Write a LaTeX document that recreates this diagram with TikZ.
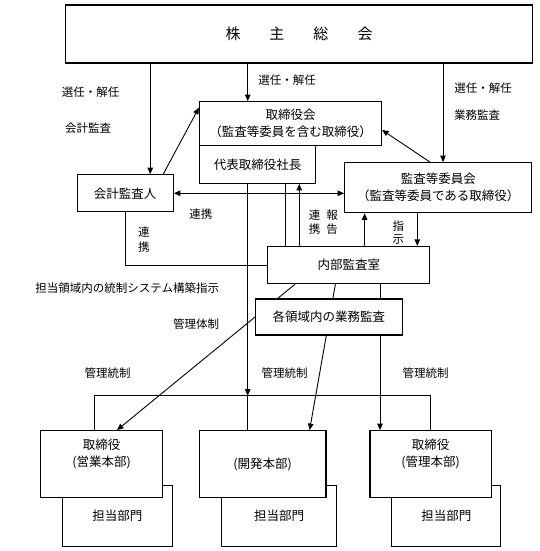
\documentclass[tikz,border=0pt]{standalone}
\usepackage{fontspec}
\setmainfont{Noto Sans CJK JP}
\usetikzlibrary{arrows.meta}

\tikzset{
  box/.style={draw, line width=1.2pt, fill=white, align=center, inner sep=0pt,
    font=\fontsize{12.5}{17}\selectfont},
  shadowbox/.style={box, line width=0.9pt},
  boxtxt/.style={align=center, inner sep=0pt, font=\fontsize{12.5}{17}\selectfont},
  lbl/.style={align=center, inner sep=0pt, font=\fontsize{11.5}{14}\selectfont},
  conn/.style={line width=0.9pt},
  arr/.style={conn, -{Triangle[length=6.5pt,width=5.5pt]}},
  dbl/.style={conn, {Triangle[length=6.5pt,width=5.5pt]}-{Triangle[length=6.5pt,width=5.5pt]}},
}

\begin{document}
\begin{tikzpicture}[x=1pt,y=-1pt]
\useasboundingbox (0,0) rectangle (540,551);

\node[box, minimum width=467, minimum height=58, font=\fontsize{15}{18}\selectfont]
  (soukai) at (299,34) {株\hspace{29pt}主\hspace{29pt}総\hspace{29pt}会};
\node[box, minimum width=182, minimum height=44] (torikai) at (290.5,123.7)
  {取締役会\\（監査等委員を含む取締役）};
\node[box, minimum width=116, minimum height=37.6] (shachou) at (257.6,164.5) {代表取締役社長};
\node[box, minimum width=96, minimum height=37] (kaikei) at (125.2,193.3) {会計監査人};
\node[box, minimum width=187, minimum height=50] (iinkai) at (438.3,187.7)
  {監査等委員会\\（監査等委員である取締役）};
\node[box, minimum width=162, minimum height=37] (naibu) at (348.8,265) {内部監査室};

% shadow boxes first, main boxes on top
\node[shadowbox, minimum width=110, minimum height=61] (eigyoubu) at (117.4,515.5) {担当部門};
\node[shadowbox, minimum width=114.5, minimum height=61] (kaihatsubu) at (279,515.5) {担当部門};
\node[shadowbox, minimum width=109, minimum height=61] (kanribu) at (446.4,515.5) {担当部門};
\node[box, minimum width=122, minimum height=67] (eigyou) at (101.6,464.2) {};
\node[box, minimum width=126.5, minimum height=67] (kaihatsu) at (262.7,464.2) {(開発本部)};
\node[box, minimum width=121.5, minimum height=67] (kanri) at (430.7,464.2) {};
\node[boxtxt] (eigyoutxt) at ([yshift=10pt]eigyou.center) {取締役\\(営業本部)};
\node[boxtxt] (kanritxt) at ([yshift=10pt]kanri.center) {取締役\\(管理本部)};

% from the general meeting
\coordinate (k1) at ([xshift=25pt]kaikei.north);
\coordinate (t1) at ([xshift=-42.8pt]torikai.north);
\coordinate (i1) at ([xshift=4.7pt]iinkai.north);
\draw[arr] (soukai.south -| k1) -- (k1);
\draw[arr] (soukai.south -| t1) -- (t1);
\draw[arr] (soukai.south -| i1) -- (i1);

\draw[arr] ([xshift=38pt]kaikei.north) -- ([yshift=-6.6pt]torikai.north west);
\draw[arr] ([xshift=-8.3pt]iinkai.north) -- ([yshift=-6.3pt]torikai.east);
\draw[dbl] (kaikei.east) -- (kaikei.east -| iinkai.west);
\draw[conn] (kaikei.south) |- (naibu.west);

% president to the divisions
\coordinate (bus) at (0,395.7);
\coordinate (s1) at ([xshift=-9.9pt]shachou.south);
\coordinate (s2) at ([xshift=27.9pt]shachou.south);
\coordinate (s3) at ([xshift=41.7pt]shachou.south);
\draw[arr] (s1) -- (s1 |- bus);
\draw[conn] (s1 |- bus) -- (s1 |- kaihatsu.north);
\draw[conn] ([xshift=-6.8pt]eigyou.north) |- (bus -| kanri.north) -- (kanri.north);
\draw[conn] (s2) -- (s2 |- naibu.north);
\draw[arr] (s3 |- naibu.north) -- (s3);

\coordinate (n1) at ([xshift=15.8pt]naibu.north);
\coordinate (n2) at ([xshift=68.5pt]naibu.north);
\draw[arr] (n1) -- (n1 |- iinkai.south);
\draw[arr] (n2 |- iinkai.south) -- (n2);

% audit lines run behind the box below
\coordinate (n3) at ([xshift=31.2pt]naibu.south);
\draw[arr] ([xshift=-53.6pt]naibu.south) -- ([xshift=15.4pt]eigyou.north);
\draw[arr] ([xshift=-13.4pt]naibu.south) -- ([xshift=46.9pt]kaihatsu.north);
\draw[arr] (n3) -- (n3 |- kanri.north);
\node[box, minimum width=147, minimum height=36] (gyoumu) at (328.9,317) {各領域内の業務監査};

\node[lbl] (l1) at (90.5,92) {選任・解任};
\node[lbl] (l2) at (88,128) {会計監査};
\node[lbl] (l3) at (287,80) {選任・解任};
\node[lbl] (l4) at (483,88) {選任・解任};
\node[lbl] (l5) at (477,115) {業務監査};
\node[lbl] (l6) at (200.8,214.3) {連携};
\node[lbl, font=\fontsize{11.5}{15}\selectfont] (l7) at (143.8,239.2) {連\\携};
\node[lbl] (l8) at (314.5,222) {連\\携};
\node[lbl] (l9) at (332,222) {報\\告};
\node[lbl, font=\fontsize{11.5}{13.3}\selectfont] (l10) at (398.4,232.6) {指\\示};
\node[lbl] (l11) at (127.3,287.7) {担当領域内の統制システム構築指示};
\node[lbl] (l12) at (196,324) {管理体制};
\node[lbl] (l13) at (107.5,373.3) {管理統制};
\node[lbl] (l14) at (284.5,373.3) {管理統制};
\node[lbl] (l15) at (425.5,373.3) {管理統制};

\end{tikzpicture}
\end{document}
